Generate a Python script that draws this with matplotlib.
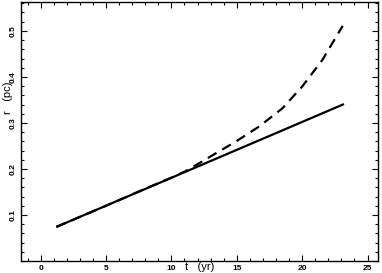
import matplotlib
matplotlib.use("Agg")
import matplotlib.pyplot as plt
from matplotlib.ticker import MultipleLocator

# solid: linear expansion
t_lin = [1.2, 23.2]
r_lin = [0.074, 0.341]

# dashed: accelerating expansion
t_acc = [1.2, 5.0, 8.0, 10.0, 11.0, 12.1, 13.4, 14.9, 16.7, 18.5, 20.0, 21.55, 23.1]
r_acc = [0.074, 0.120, 0.157, 0.181, 0.194, 0.212, 0.234, 0.259, 0.292, 0.332, 0.379, 0.437, 0.511]

xticks = [0, 5, 10, 15, 20, 25]
yticks = [0.1, 0.2, 0.3, 0.4, 0.5]

plt.rcParams['font.family'] = ['Liberation Sans', 'DejaVu Sans']

fig = plt.figure(figsize=(3.82, 2.73), dpi=100)
ax = fig.add_axes([0.055, 0.044, 0.9345, 0.949])

ax.plot(t_lin, r_lin, color='black', lw=1.6, solid_capstyle='butt')
ax.plot(t_acc, r_acc, color='black', lw=1.6, dashes=(4.5, 3))

ax.set_xlim(-1.5, 25.8)
ax.set_ylim(0.0, 0.563)
ax.set_xticks(xticks)
ax.set_yticks(yticks)
ax.set_xticklabels([str(v) for v in xticks])
ax.set_yticklabels([str(v) for v in yticks], rotation=90, va='center')
ax.xaxis.set_minor_locator(MultipleLocator(1))
ax.yaxis.set_minor_locator(MultipleLocator(0.02))

ax.tick_params(which='both', direction='in', top=True, right=True, width=0.8,
               labelsize=6)
ax.tick_params(which='major', length=4, pad=3)
ax.tick_params(which='minor', length=2)
for lab in ax.get_xticklabels() + ax.get_yticklabels():
    lab.set_fontweight('bold')
for s in ax.spines.values():
    s.set_linewidth(1.0)

fig.text(200 / 382, 1 / 273, 't   (yr)', ha='center', va='bottom', fontsize=8)
fig.text(8 / 382, 1 - 98 / 273, 'r   (pc)', ha='center', va='center',
         rotation=90, fontsize=8)

fig.savefig('out.png', dpi=100)
